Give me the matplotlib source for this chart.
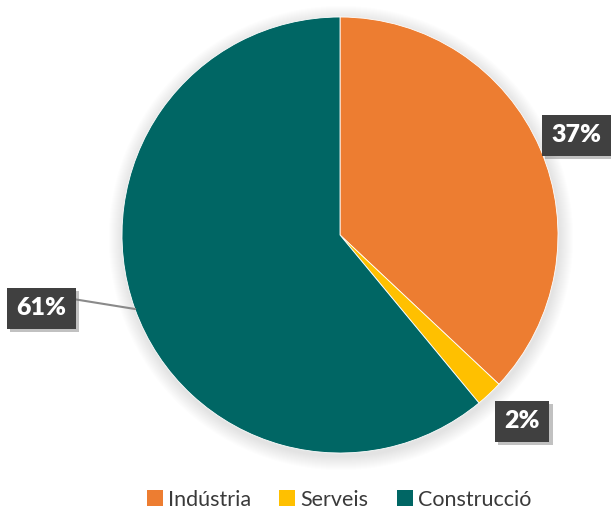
import matplotlib.pyplot as plt
import matplotlib.patheffects as pe
from matplotlib.patches import Circle, Patch

# sector shares (%)
sectors = ['Indústria', 'Serveis', 'Construcció']
shares = [37, 2, 61]
colors = ['#ED7D31', '#FFC000', '#006664']

plt.rcParams['font.family'] = ['Lato', 'DejaVu Sans']

fig = plt.figure(figsize=(6.11, 5.15), dpi=100)
ax = fig.add_axes([0, 0, 1, 1])

cx, cy, r = 340, 280, 218

# soft glow under the pie
for k in range(14, 0, -1):
    ax.add_patch(Circle((cx + 1, cy - 3), r + k, color='#9a9a9a',
                        alpha=0.018, lw=0, zorder=0))

wedges, _ = ax.pie(shares, colors=colors, startangle=90, counterclock=False,
                   center=(cx, cy), radius=r, frame=True,
                   wedgeprops=dict(edgecolor='white', linewidth=0.6))
ax.set_xlim(0, 611)
ax.set_ylim(0, 515)
ax.set_aspect('equal')
ax.axis('off')

# leader line for the big slice
ax.plot([73, 135], [515 - 299, 515 - 309], color='#8a8a8a', lw=1.5, zorder=3)

label_pos = [(576, 515 - 135), (522, 515 - 421), (41, 515 - 308)]
for val, (x, y) in zip(shares, label_pos):
    t = ax.text(x, y, f'{val}%', ha='center', va='center', color='white',
                fontsize=18, fontweight='heavy', zorder=5,
                bbox=dict(boxstyle='square,pad=0.38', fc='#404040', ec='none'))
    t.get_bbox_patch().set_path_effects([
        pe.SimplePatchShadow(offset=(2.5, -2.5), shadow_rgbFace='#777777', alpha=0.45),
        pe.Normal()])

handles = [Patch(facecolor=c, edgecolor='none') for c in colors]
fig.legend(handles, sectors, loc='center', bbox_to_anchor=(0.555, 0.03),
           ncol=3, frameon=False, fontsize=15.5, handlelength=0.75,
           handleheight=0.75, handletextpad=0.25, columnspacing=1.3,
           labelcolor='#3a3a3a')

fig.savefig('out.png', dpi=100, facecolor='white')
